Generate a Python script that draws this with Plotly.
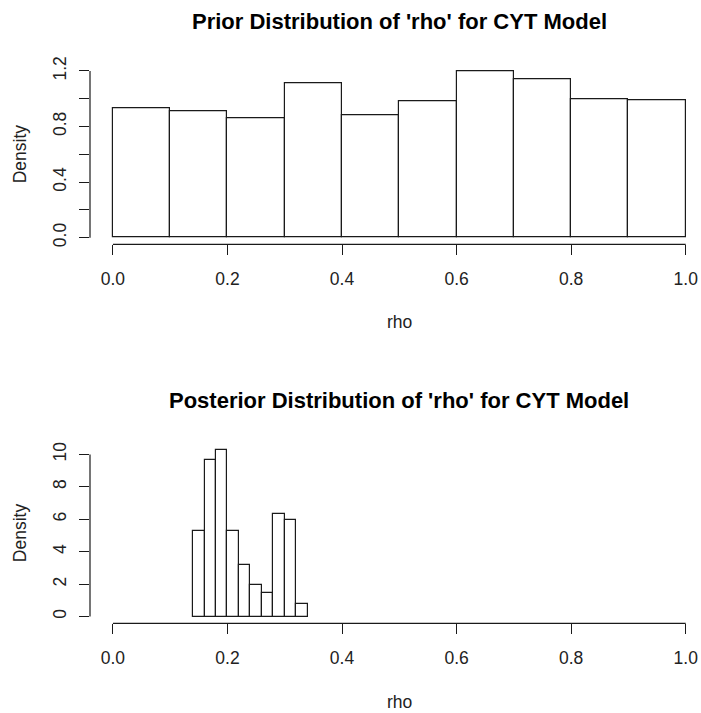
import plotly.graph_objects as go

# ---- data ----
prior_bin_left = [0.0, 0.1, 0.2, 0.3, 0.4, 0.5, 0.6, 0.7, 0.8, 0.9]
prior_bin_width = 0.1
prior_density = [0.931, 0.907, 0.859, 1.109, 0.883, 0.982, 1.200, 1.142, 0.996, 0.989]

post_bin_left = [0.14, 0.16, 0.18, 0.20, 0.22, 0.24, 0.26, 0.28, 0.30, 0.32]
post_bin_width = 0.02
post_density = [5.27, 9.65, 10.29, 5.27, 3.21, 1.93, 1.48, 6.32, 5.97, 0.76]

x_ticks = [0.0, 0.2, 0.4, 0.6, 0.8, 1.0]
x_ticktext = ["0.0", "0.2", "0.4", "0.6", "0.8", "1.0"]
prior_y_ticks = [0.0, 0.2, 0.4, 0.6, 0.8, 1.0, 1.2]
prior_y_ticktext = ["0.0", "", "0.4", "", "0.8", "", "1.2"]
post_y_ticks = [0, 2, 4, 6, 8, 10]
post_y_ticktext = ["0", "2", "4", "6", "8", "10"]

titles = ["Prior Distribution of 'rho' for CYT Model",
          "Posterior Distribution of 'rho' for CYT Model"]
x_label = "rho"
y_label = "Density"

# ---- layout constants ----
W, H = 701, 713
FONT = "Liberation Sans, Arial, sans-serif"
px_x0 = 90.0
px_x1 = 685.7  # pixel of x = 1.0
ppu = 573.0
xdom = [px_x0 / W, 1.0]
xrange = [-0.04, 1.0 + (W - px_x1) / ppu]

def ydom(top_px, bot_px):
    return [1 - bot_px / H, 1 - top_px / H]

panels = [
    dict(left=prior_bin_left, w=prior_bin_width, d=prior_density,
         yt=prior_y_ticks, ytt=prior_y_ticktext, dom=ydom(64.3, 244.3),
         title_y=22, xlab_y=322),
    dict(left=post_bin_left, w=post_bin_width, d=post_density,
         yt=post_y_ticks, ytt=post_y_ticktext, dom=ydom(443.0, 623.3),
         title_y=400, xlab_y=702),
]

fig = go.Figure()
annotations = []
shapes = []
line_col = "#1a1a1a"
txt_col = "#222222"
xcenter = (px_x0 + 618.8 / 2) / W

for i, p in enumerate(panels):
    n = "" if i == 0 else str(i + 1)
    xa, ya = "x" + n, "y" + n
    fig.add_trace(go.Bar(
        x=p["left"], y=p["d"], width=p["w"], offset=0,
        marker=dict(color="white", line=dict(color=line_col, width=1.2)),
        xaxis=xa, yaxis=ya, showlegend=False, hoverinfo="skip",
    ))
    ymax = max(p["d"])
    yr = [-0.04 * ymax, 1.04 * ymax]
    fig.layout["xaxis" + n] = dict(
        domain=xdom, range=xrange, anchor=ya, tickmode="array",
        tickvals=x_ticks, ticktext=x_ticktext, ticks="outside", ticklen=10,
        tickcolor=line_col, tickwidth=1.2, showline=False, showgrid=False,
        zeroline=False, tickfont=dict(family=FONT, size=17.5, color=txt_col),
        ticklabelstandoff=9, fixedrange=True, automargin=False,
        ticklabeloverflow="allow",
    )
    fig.layout["yaxis" + n] = dict(
        domain=p["dom"], range=yr, anchor=xa, tickmode="array",
        tickvals=p["yt"], ticktext=p["ytt"], ticks="outside", ticklen=10,
        tickcolor=line_col, tickwidth=1.2, showline=False, showgrid=False,
        zeroline=False, tickangle=-90,
        tickfont=dict(family=FONT, size=17.5, color=txt_col),
        ticklabelstandoff=6, fixedrange=True, automargin=False,
    )
    # axis lines spanning first..last tick (R style)
    shapes.append(dict(type="line", xref=xa, yref=ya + " domain",
                       x0=x_ticks[0], x1=x_ticks[-1], y0=0, y1=0,
                       line=dict(color=line_col, width=1.2)))
    shapes.append(dict(type="line", xref=xa + " domain", yref=ya,
                       x0=0, x1=0, y0=p["yt"][0], y1=p["yt"][-1],
                       line=dict(color=line_col, width=1.2)))
    annotations.append(dict(text="<b>" + titles[i] + "</b>", xref="paper", yref="paper",
                            x=xcenter, y=1 - p["title_y"] / H,
                            xanchor="center", yanchor="middle", showarrow=False,
                            font=dict(family=FONT, size=22, color="black")))
    annotations.append(dict(text=x_label, xref="paper", yref="paper",
                            x=xcenter, y=1 - p["xlab_y"] / H,
                            xanchor="center", yanchor="middle", showarrow=False,
                            font=dict(family=FONT, size=17.5, color=txt_col)))
    annotations.append(dict(text=y_label, xref="paper", yref="paper",
                            x=20 / W, y=sum(p["dom"]) / 2, textangle=-90,
                            xanchor="center", yanchor="middle", showarrow=False,
                            font=dict(family=FONT, size=17.5, color=txt_col)))

fig.update_layout(
    template="none",
    width=W, height=H, margin=dict(l=0, r=0, t=0, b=0, autoexpand=False),
    paper_bgcolor="white", plot_bgcolor="white",
    annotations=annotations, shapes=shapes, bargap=0,
)
fig.write_html("out.html",
               config={"displayModeBar": False},
               post_script="document.body.style.margin='0';document.body.style.overflow='hidden';")
